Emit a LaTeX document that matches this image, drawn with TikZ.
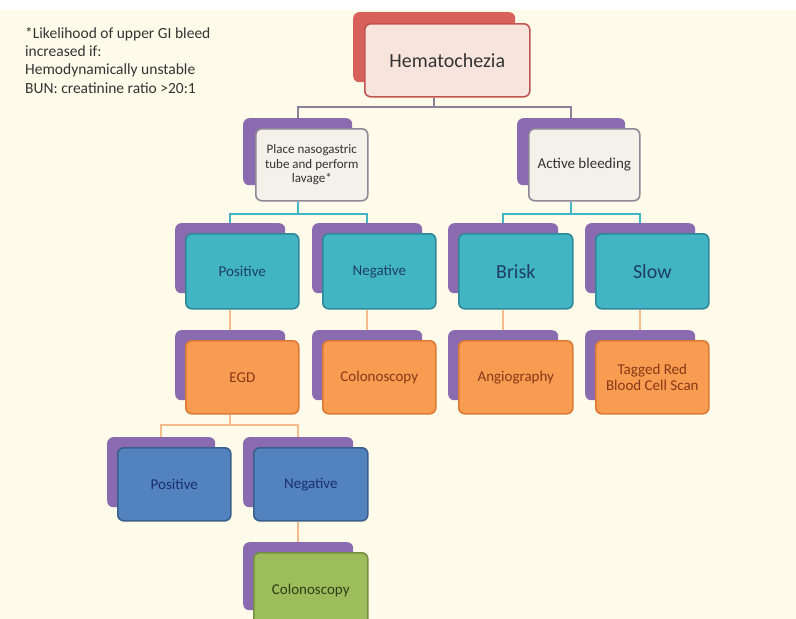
\documentclass[tikz,border=0pt]{standalone}
\usepackage{fontspec}
\setmainfont{Carlito}
\usetikzlibrary{positioning}
\definecolor{cream}{HTML}{FEFBEA}
\definecolor{purp}{HTML}{8A6BB0}
\definecolor{redb}{HTML}{D9615C}
\definecolor{redd}{HTML}{C25450}
\definecolor{pinkf}{HTML}{F7E5DD}
\definecolor{palef}{HTML}{F4F0EA}
\definecolor{paled}{HTML}{8E8796}
\definecolor{tealf}{HTML}{42B5C4}
\definecolor{teald}{HTML}{2F8797}
\definecolor{tealt}{HTML}{1E3F63}
\definecolor{orangef}{HTML}{F89C52}
\definecolor{oranged}{HTML}{DC7A35}
\definecolor{oranget}{HTML}{873816}
\definecolor{bluef}{HTML}{5283BF}
\definecolor{blued}{HTML}{3A5F8C}
\definecolor{bluet}{HTML}{1C2F6B}
\definecolor{greenf}{HTML}{9DBD5C}
\definecolor{greend}{HTML}{758E42}
\definecolor{greent}{HTML}{303D14}
\definecolor{linkg}{HTML}{8C8198}
\definecolor{linko}{HTML}{F3BC8A}

\begin{document}
\begin{tikzpicture}[x=1pt, y=-1pt,
  every node/.style={inner sep=0pt, align=center, rounded corners=6pt},
  back/.style={fill=purp, anchor=north west, minimum width=110pt, minimum height=70pt},
  front/.style={draw, line width=1.6pt, minimum width=113pt, minimum height=74pt,
    font=\fontsize{15}{17}\selectfont},
  pink/.style={front, fill=pinkf, draw=redd, text=black!80,
    font=\fontsize{20}{24}\selectfont},
  pale/.style={front, fill=palef, draw=paled, text=black!80},
  teal/.style={front, fill=tealf, draw=teald, text=tealt},
  orange/.style={front, fill=orangef, draw=oranged, text=oranget},
  blue/.style={front, fill=bluef, draw=blued, text=bluet},
  green/.style={front, fill=greenf, draw=greend, text=greent},
  link/.style={line width=1.8pt}
]
\useasboundingbox (0,0) rectangle (796,619);
\clip (0,0) rectangle (796,619);
\fill[cream] (0,10) rectangle (796,619);

\node[anchor=north west, align=left, text=black!80, font=\fontsize{15.5}{18.3}\selectfont] (note) at (25,27)
  {*Likelihood of upper GI bleed\\increased if:\\Hemodynamically unstable\\BUN: creatinine ratio >20:1};

% top
\node[back, fill=redb, minimum width=162pt] (hemab) at (353,12) {};
\node[pink, minimum width=165pt, minimum height=73pt, below right=11pt and 11pt of hemab.north west] (hema) {Hematochezia};

% second row
\node[back, minimum width=109pt, minimum height=67pt] (ngtb) at (243,118) {};
\node[pale, minimum width=112pt, minimum height=72pt, font=\fontsize{13}{14.5}\selectfont,
  below right=10pt and 12pt of ngtb.north west] (ngt) {Place nasogastric\\tube and perform\\lavage*};
\node[back, minimum width=108pt, minimum height=67pt] (actb) at (517,118) {};
\node[pale, minimum width=111pt, minimum height=72pt, below right=10pt and 11pt of actb.north west] (act) {Active bleeding};

% third row
\node[back] (pos1b) at (175,223) {};
\node[teal, minimum height=75pt, below right=10pt and 10pt of pos1b.north west] (pos1) {Positive};
\node[back] (neg1b) at (312,223) {};
\node[teal, minimum height=75pt, below right=10pt and 10pt of neg1b.north west] (neg1) {Negative};
\node[back] (briskb) at (448,223) {};
\node[teal, minimum width=114pt, minimum height=75pt, font=\fontsize{20}{24}\selectfont,
  below right=10pt and 10pt of briskb.north west] (brisk) {Brisk};
\node[back] (slowb) at (585,223) {};
\node[teal, minimum height=75pt, font=\fontsize{20}{24}\selectfont,
  below right=10pt and 10pt of slowb.north west] (slow) {Slow};

% fourth row
\node[back] (egdb) at (175,330) {};
\node[orange, minimum height=73pt, below right=10pt and 10pt of egdb.north west] (egd) {EGD};
\node[back] (col1b) at (312,330) {};
\node[orange, minimum height=73pt, below right=10pt and 10pt of col1b.north west] (col1) {Colonoscopy};
\node[back] (angiob) at (448,330) {};
\node[orange, minimum width=114pt, minimum height=73pt, below right=10pt and 10pt of angiob.north west] (angio) {Angiography};
\node[back] (rbcb) at (585,330) {};
\node[orange, minimum height=73pt, font=\fontsize{15}{16}\selectfont,
  below right=10pt and 10pt of rbcb.north west] (rbc) {Tagged Red\\Blood Cell Scan};

% fifth row
\node[back, minimum width=108pt] (pos2b) at (107,437) {};
\node[blue, minimum height=73pt, below right=10pt and 10pt of pos2b.north west] (pos2) {Positive};
\node[back] (neg2b) at (243,437) {};
\node[blue, minimum width=114pt, minimum height=73pt, below right=10pt and 10pt of neg2b.north west] (neg2) {Negative};

% last row
\node[back, minimum height=68pt] (col2b) at (243,542) {};
\node[green, minimum width=114pt, minimum height=76pt, below right=10pt and 10pt of col2b.north west] (col2) {Colonoscopy};

% connectors
\draw[link, linkg] (hemab.center |- hema.south) -- ++(0,9) -| (ngtb.north)
  (hemab.center |- hema.south) -- ++(0,9) -| (actb.north);
\draw[link, tealf] (ngtb.center |- ngt.south) -- ++(0,12) -| (pos1b.north)
  (ngtb.center |- ngt.south) -- ++(0,12) -| (neg1b.north)
  (actb.center |- act.south) -- ++(0,12) -| (briskb.north)
  (actb.center |- act.south) -- ++(0,12) -| (slowb.north);
\draw[link, linko] (pos1b.center |- pos1.south) -- (egdb.north)
  (neg1b.center |- neg1.south) -- (col1b.north)
  (briskb.center |- brisk.south) -- (angiob.north)
  (slowb.center |- slow.south) -- (rbcb.north)
  (egdb.center |- egd.south) -- ++(0,10) -| (pos2b.north)
  (egdb.center |- egd.south) -- ++(0,10) -| (neg2b.north)
  (neg2b.center |- neg2.south) -- (col2b.north);
\end{tikzpicture}
\end{document}
